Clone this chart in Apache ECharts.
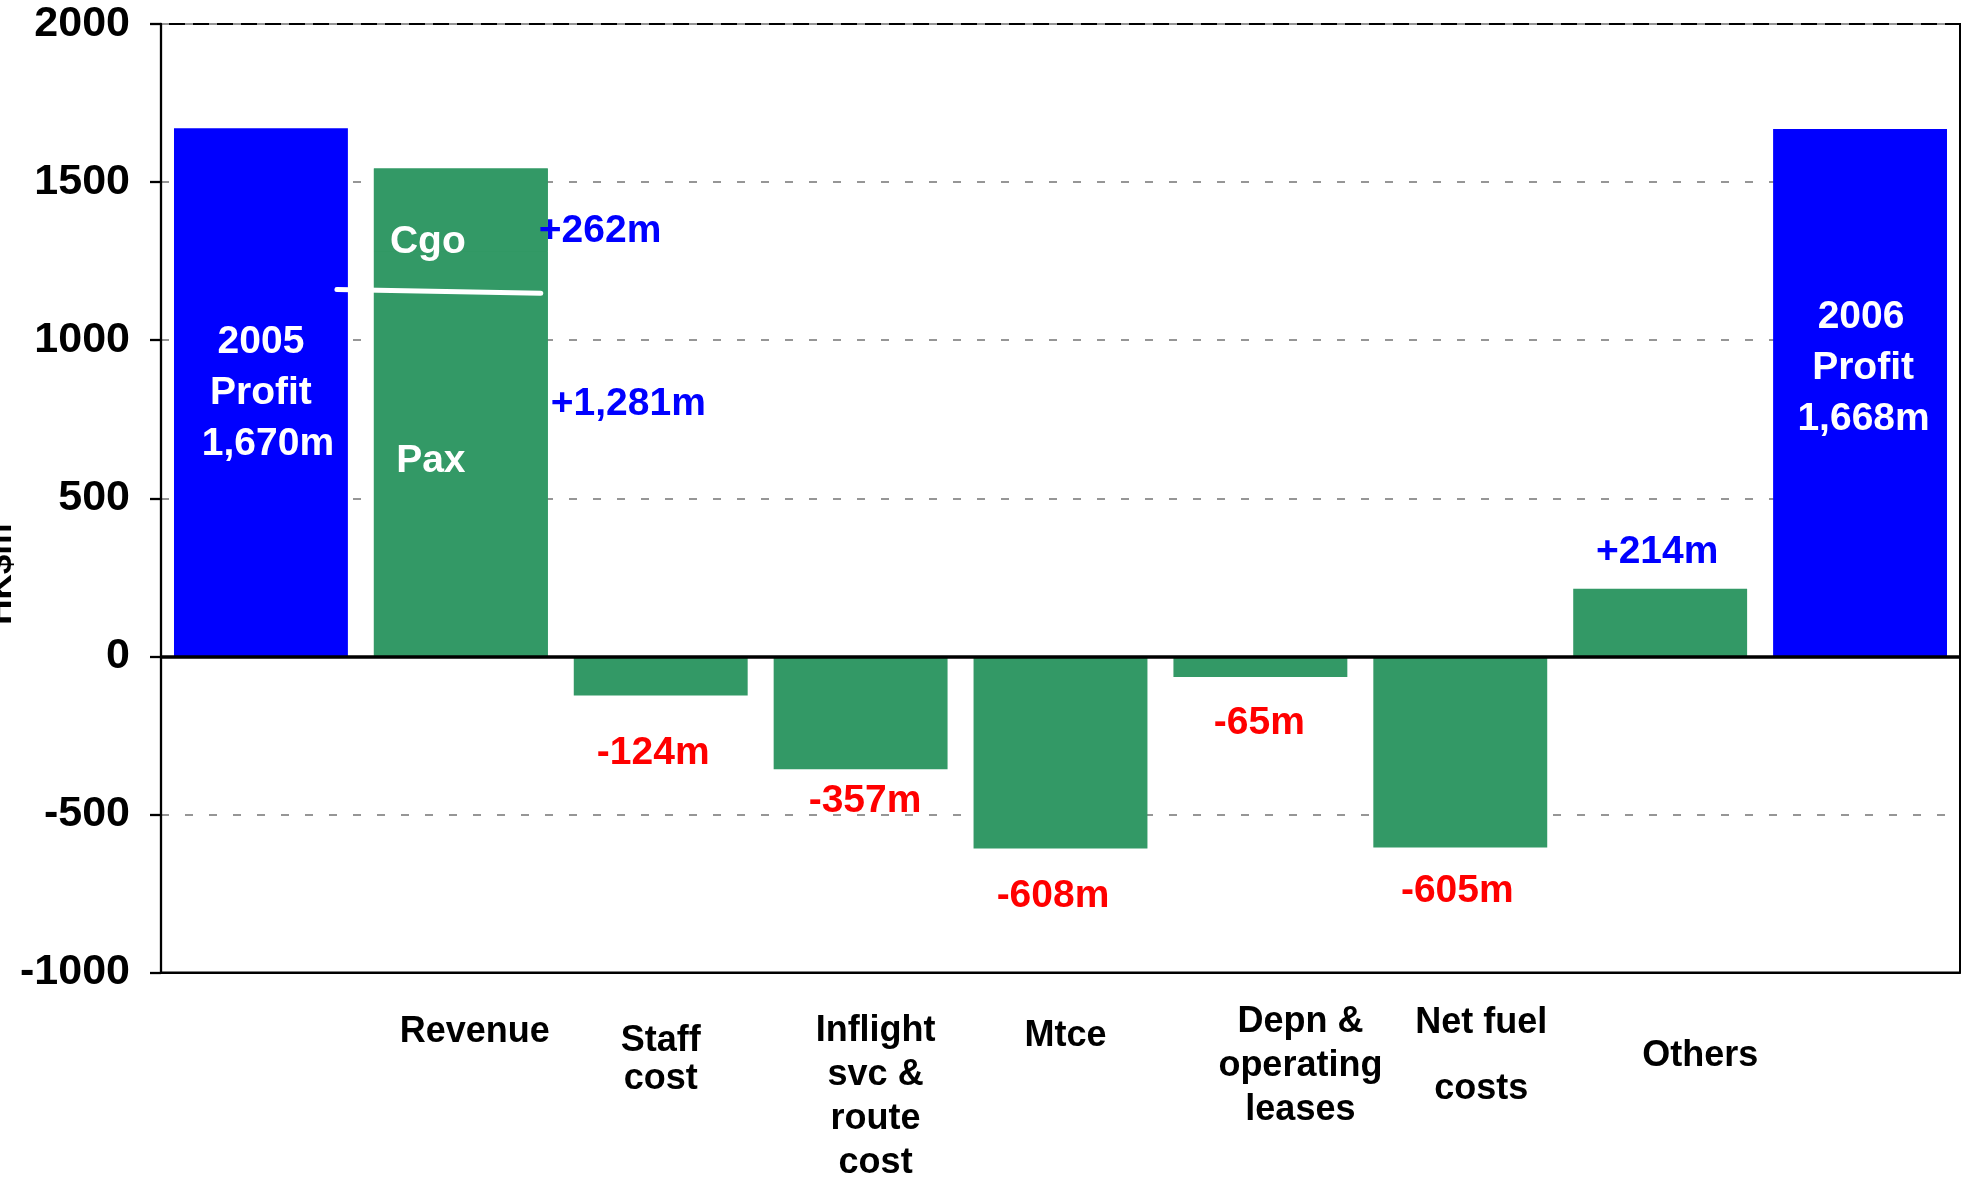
<!DOCTYPE html>
<html>
<head>
<meta charset="utf-8">
<script src="https://cdn.jsdelivr.net/npm/echarts@6/dist/echarts.min.js"></script>
<style>
html,body{margin:0;padding:0;background:#fff;}
#chart{width:1970px;height:1177px;}
</style>
</head>
<body>
<div id="chart"></div>
<script>
// ---------------- data ----------------
const categories = ['2005 Profit', 'Revenue', 'Staff cost', 'Inflight svc & route cost', 'Mtce',
  'Depn & operating leases', 'Net fuel costs', 'Others', '2006 Profit'];
const tickLabels = ['', 'Revenue', 'Staff\ncost', 'Inflight\nsvc &\nroute\ncost', 'Mtce',
  'Depn &\noperating\nleases', 'Net fuel\ncosts', 'Others', ''];
const profitValues = [1670, null, null, null, null, null, null, null, 1668];
const changeValues = [null, 1281, -124, -357, -608, -65, -605, 214, null]; // Revenue entry = Pax
const cargoValues  = [null, 262, null, null, null, null, null, null, null];
const profitLabels = ['2005\nProfit\n1,670m', '', '', '', '', '', '', '', '2006\nProfit\n1,668m'];
const changeLabels = ['', '+1,281m', '-124m', '-357m', '-608m', '-65m', '-605m', '+214m', ''];
const cargoLabels  = ['', '+262m', '', '', '', '', '', '', ''];
const revenueParts = ['Pax', 'Cgo'];
const dividerLevels = [1160, 1148]; // hand-drawn Pax / Cgo separator (start, end)
const yMin = -1000, yMax = 2000, yStep = 500;

// ---------------- styles ----------------
const FONT = '"Liberation Sans", Arial, sans-serif';
const BLUE = '#0000FF', GREEN = '#339966', RED = '#FF0000', LBLUE = '#0000FF';

// per-line horizontal nudges (px, as left padding) inside the profit labels
const profitLineShift = {
  0: [0, 0, 14],
  8: [0, 4, 5]
};
const profitLabelStyle = {
  0: { offset: [0, 1] },
  8: { offset: [1, -24] }
};
const changeLabelStyle = {
  1: { position: 'right', distance: 3, offset: [0, -50], color: LBLUE },
  2: { position: 'bottom', distance: 37.5, offset: [-7.5, 0], color: RED },
  3: { position: 'bottom', distance: 12.5, offset: [4.4, 0], color: RED },
  4: { position: 'bottom', distance: 27.5, offset: [-7.5, 0], color: RED },
  5: { position: 'bottom', distance: 26, offset: [-1, 0], color: RED },
  6: { position: 'bottom', distance: 23.5, offset: [-3, 0], color: RED },
  7: { position: 'top', distance: 16.5, offset: [-3, 0], color: LBLUE }
};
const cargoLabelStyle = {
  1: { position: 'right', distance: -9, offset: [0, 21], color: LBLUE }
};
// per-category tick label placement: [paddingTop, paddingLeft, lineHeight]
const tickLayout = {
  1: [38, 28, 44],
  2: [50, 0, 38],
  3: [37, 30, 44],
  4: [42, 10, 44],
  5: [28, 80, 44],
  6: [18, 42, 66],
  7: [62, 80, 44]
};

const baseLabel = { show: true, fontFamily: FONT, fontWeight: 'bold', fontSize: 39, lineHeight: 40 };

function items(values, labels, styles, color, extra, shifts) {
  return values.map((v, i) => {
    if (v == null) return '-';
    const st = styles[i] || {};
    let text = labels[i];
    let rich;
    if (shifts && shifts[i]) {
      rich = {};
      text = text.split('\n').map((line, j) => {
        rich['s' + j] = { padding: [0, 0, 0, shifts[i][j] || 0] };
        return '{s' + j + '|' + line + '}';
      }).join('\n');
    }
    const label = Object.assign({}, baseLabel, extra || {}, st, { formatter: text });
    if (rich) label.rich = rich;
    return { value: v, itemStyle: { color: color }, label: label };
  });
}

// whole revenue bar (Pax + Cgo) drawn underneath the split, so the two parts join seamlessly
const revenueTotal = changeValues.map((v, i) => (cargoValues[i] == null ? '-' : v + cargoValues[i]));

const rich = {};
Object.keys(tickLayout).forEach(k => {
  const [pt, pl, lh] = tickLayout[k];
  rich['f' + k] = { height: lh, padding: [pt, 0, 0, pl] };
  rich['n' + k] = { height: lh, padding: [0, 0, 0, pl] };
});

const chart = echarts.init(document.getElementById('chart'), null, { renderer: 'canvas' });

const barCommon = { barCategoryGap: '13%', barGap: '-100%', emphasis: { disabled: true } };

const option = {
  animation: false,
  backgroundColor: '#fff',
  grid: {
    left: 161, right: 10, top: 24, bottom: 204.5,
    show: true, borderColor: '#000', borderWidth: 2, backgroundColor: 'transparent',
    containLabel: false, outerBoundsMode: 'none'
  },
  xAxis: {
    type: 'category',
    data: categories,
    axisLine: { show: true, onZero: false, lineStyle: { color: '#000', width: 2 } },
    axisTick: { show: false },
    splitLine: { show: false },
    axisLabel: {
      interval: 0, margin: 0, color: '#000',
      fontFamily: FONT, fontWeight: 'bold', fontSize: 36,
      formatter: (value, index) => {
        const t = tickLabels[index];
        if (!t) return '';
        return t.split('\n').map((line, j) => '{' + (j === 0 ? 'f' : 'n') + index + '|' + line + '}').join('\n');
      },
      rich: rich
    }
  },
  yAxis: {
    type: 'value',
    min: yMin, max: yMax, interval: yStep,
    name: 'HK$m', nameLocation: 'middle', nameRotate: 90, nameGap: 142, nameMoveOverlap: false,
    nameTextStyle: { fontFamily: FONT, fontWeight: 'bold', fontSize: 35, color: '#000', padding: [0, 152, 0, 0] },
    axisLine: { show: true, lineStyle: { color: '#000', width: 2.3 } },
    axisTick: { show: true, length: 11, lineStyle: { color: '#000', width: 2.3 } },
    axisLabel: { fontFamily: FONT, fontWeight: 'bold', fontSize: 43, color: '#000', margin: 31, formatter: v => String(v) },
    splitLine: { show: true, lineStyle: { color: '#969696', width: 2, type: [8, 16] } }
  },
  series: [
    Object.assign({
      type: 'bar', name: 'Revenue total', stack: 'bg', z: 1,
      silent: true,
      itemStyle: { color: GREEN },
      data: revenueTotal
    }, barCommon),
    Object.assign({
      type: 'bar', name: 'Profit', stack: 'all',
      data: items(profitValues, profitLabels, profitLabelStyle, BLUE,
        { position: 'inside', color: '#fff', lineHeight: 51, align: 'center' }, profitLineShift),
      markLine: {
        silent: true, symbol: ['none', 'none'], label: { show: false },
        lineStyle: { color: '#000', width: 3.5, type: 'solid' },
        emphasis: { disabled: true },
        data: [{ yAxis: 0 }]
      }
    }, barCommon),
    Object.assign({
      type: 'bar', name: 'Change', stack: 'all',
      data: items(changeValues, changeLabels, changeLabelStyle, GREEN)
    }, barCommon),
    Object.assign({
      type: 'bar', name: 'Cargo', stack: 'all',
      data: items(cargoValues, cargoLabels, cargoLabelStyle, GREEN),
      markPoint: {
        silent: true, symbol: 'rect', symbolSize: 1,
        itemStyle: { color: 'rgba(0,0,0,0)' },
        emphasis: { disabled: true },
        label: { show: true, position: 'inside', color: '#fff', fontFamily: FONT, fontWeight: 'bold', fontSize: 39 },
        data: [
          { name: revenueParts[0], coord: [1, changeValues[1] / 2], label: { formatter: revenueParts[0], offset: [-30, 7] } },
          { name: revenueParts[1], coord: [1, changeValues[1] + cargoValues[1] / 2], label: { formatter: revenueParts[1], offset: [-33, 32] } }
        ]
      }
    }, barCommon),
    {
      type: 'custom', name: 'Divider', silent: true, z: 5,
      data: [[1, dividerLevels[0], dividerLevels[1]]],
      encode: { x: 0, y: 1 },
      renderItem: (params, api) => {
        const p1 = api.coord([api.value(0), api.value(1)]);
        const p2 = api.coord([api.value(0), api.value(2)]);
        const bw = api.size([1, 0])[0];
        return {
          type: 'line',
          shape: { x1: p1[0] - 0.62 * bw, y1: p1[1], x2: p1[0] + 0.40 * bw, y2: p2[1] },
          style: { stroke: '#fff', lineWidth: 5, lineCap: 'round' }
        };
      }
    }
  ]
};
chart.setOption(option);
</script>
</body>
</html>
